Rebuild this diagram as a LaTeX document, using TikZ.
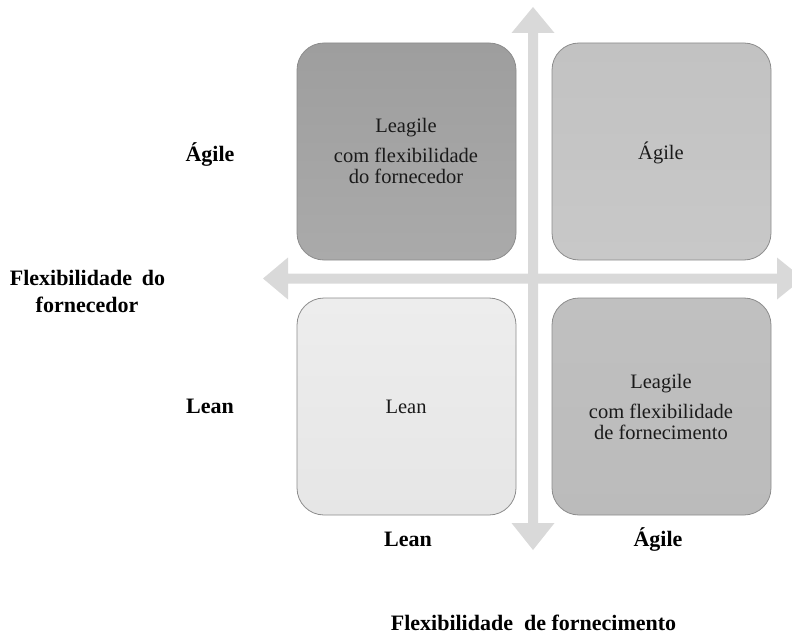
\documentclass[tikz,border=0pt]{standalone}
\usepackage{fontspec}
\setmainfont{Liberation Serif}
\definecolor{arrowgrey}{HTML}{D9D9D9}
\definecolor{boxline}{HTML}{8C8C8C}
\definecolor{inktext}{HTML}{1A1A1A}
\begin{document}
\begin{tikzpicture}[x=1pt,y=-1pt,
  quad/.style={draw=boxline, line width=0.8pt, rounded corners=27pt,
    minimum width=219pt, minimum height=217pt, inner sep=0pt},
  celltext/.style={font=\fontsize{20.5}{21}\selectfont, text=inktext,
    anchor=base, inner sep=0pt},
  axislabel/.style={font=\fontsize{22}{23}\selectfont\bfseries, text=black,
    anchor=base, inner sep=0pt},
  axisarrow/.style={fill=arrowgrey, draw=none}]
\useasboundingbox (0,0) rectangle (792,639);
\clip (0,0) rectangle (792,639);

% axes: two double-headed block arrows
\fill[axisarrow] (533,7) -- (554.5,33) -- (538,33) -- (538,523) -- (554.5,523)
  -- (533,550) -- (511.5,523) -- (528,523) -- (528,33) -- (511.5,33) -- cycle;
\fill[axisarrow] (263,278.5) -- (288,257.5) -- (288,273.5) -- (777,273.5)
  -- (777,257.5) -- (803,278.5) -- (777,299.5) -- (777,283.5) -- (288,283.5)
  -- (288,299.5) -- cycle;

% quadrants
\node[quad, top color={rgb,255:red,158;green,158;blue,158},
  bottom color={rgb,255:red,170;green,170;blue,170}] (tl) at (406.5,151.5) {};
\node[quad, top color={rgb,255:red,194;green,194;blue,194},
  bottom color={rgb,255:red,200;green,200;blue,200}] (tr) at (661.5,151.5) {};
\node[quad, top color={rgb,255:red,237;green,237;blue,237},
  bottom color={rgb,255:red,230;green,230;blue,230}] (bl) at (406.5,406.5) {};
\node[quad, top color={rgb,255:red,192;green,192;blue,192},
  bottom color={rgb,255:red,187;green,187;blue,187}] (br) at (661.5,406.5) {};

% quadrant texts
\node[celltext] (tl1) at (406,133) {Leagile};
\node[celltext] (tl2) at (406,163) {com flexibilidade};
\node[celltext] (tl3) at (406,184) {do fornecedor};
\node[celltext] (tr1) at (661,160) {Ágile};
\node[celltext] (bl1) at (406,413) {Lean};
\node[celltext] (br1) at (661,388) {Leagile};
\node[celltext] (br2) at (661,418) {com flexibilidade};
\node[celltext] (br3) at (661,439) {de fornecimento};

% axis labels
\node[axislabel] (yhi) at (210,162) {Ágile};
\node[axislabel] (ylo) at (210,413) {Lean};
\node[axislabel] (ytitle1) at (87.5,285) {Flexibilidade\hspace{0.2em} do};
\node[axislabel] (ytitle2) at (87,312) {fornecedor};
\node[axislabel] (xlo) at (408,546) {Lean};
\node[axislabel] (xhi) at (658,546) {Ágile};
\node[axislabel] (xtitle) at (533.5,630) {Flexibilidade\hspace{0.25em} de fornecimento};
\end{tikzpicture}
\end{document}
